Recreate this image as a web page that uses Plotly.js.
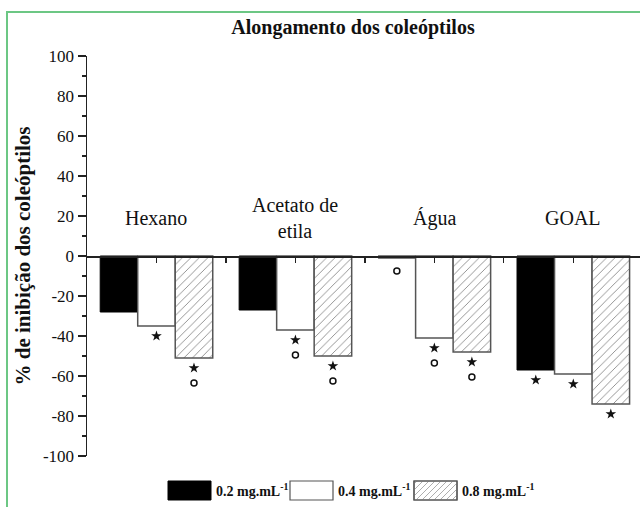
<!DOCTYPE html>
<html>
<head>
<meta charset="utf-8">
<script src="https://cdn.plot.ly/plotly-3.0.1.min.js"></script>
<style>
  html, body { margin: 0; padding: 0; background: #fff; }
  #wrap { position: relative; width: 640px; height: 507px; }
  #chart { width: 640px; height: 507px; }
  #frame { position: absolute; left: 6px; top: 11px; right: 0; bottom: 0;
           border-top: 2px solid #6cc784; border-left: 2px solid #6cc784; pointer-events: none; }
</style>
</head>
<body>
<div id="wrap"><div id="chart"></div><div id="frame"></div></div>
<script>
// ---- data ----
const categories = ['Hexano', 'Acetato de<br>etila', 'Água', 'GOAL'];
const seriesNames = ['0.2 mg.mL<sup>-1</sup>', '0.4 mg.mL<sup>-1</sup>', '0.8 mg.mL<sup>-1</sup>'];
const values02 = [-28, -27, -1, -57];
const values04 = [-35, -37, -41, -59];
const values08 = [-51, -50, -48, -74];
// significance marks (1 = shown)
const star02 = [0, 0, 0, 1];
const star04 = [1, 1, 1, 1];
const star08 = [1, 1, 1, 1];
const circ02 = [0, 0, 1, 0];
const circ04 = [0, 1, 1, 0];
const circ08 = [1, 1, 1, 0];
const yTickVals = [-100, -80, -60, -40, -20, 0, 20, 40, 60, 80, 100];
const yTickText = ['-100', '-80', '-60', '-40', '-20', '0', '20', '40', '60', '80', '100'];

// ---- styles ----
const serif = '"Liberation Serif", "Times New Roman", serif';
const ink = '#111';
const bargap = 0.19;
const bw = (1 - bargap) / 3;
const xIdx = categories.map((_, i) => i);

const values = [values02, values04, values08];
const stars = [star02, star04, star08];
const circs = [circ02, circ04, circ08];

const barStyles = [
  { color: '#000', line: { color: '#000', width: 1 } },
  { color: '#fff', line: { color: '#555', width: 1.5 } },
  { color: '#fff', line: { color: '#555', width: 1.5 },
    pattern: { shape: '/', fgcolor: '#8a8a8a', bgcolor: '#fff', size: 6, solidity: 0.15 } }
];

const traces = [];
values.forEach((v, s) => {
  traces.push({
    type: 'bar', x: xIdx, y: v, name: seriesNames[s],
    marker: barStyles[s], showlegend: false, hoverinfo: 'y'
  });
});

// significance markers below each bar
const starOff = 5, circOffWithStar = 12.5, circOffAlone = 6.5;
values.forEach((v, s) => {
  const sx = [], sy = [], cx = [], cy = [];
  v.forEach((val, i) => {
    const x = i + (s - 1) * bw;
    if (stars[s][i]) { sx.push(x); sy.push(val - starOff); }
    if (circs[s][i]) { cx.push(x); cy.push(val - (stars[s][i] ? circOffWithStar : circOffAlone)); }
  });
  traces.push({ type: 'scatter', mode: 'markers', x: sx, y: sy, showlegend: false, hoverinfo: 'skip',
    marker: { symbol: 'star', size: 8, color: ink } });
  traces.push({ type: 'scatter', mode: 'markers', x: cx, y: cy, showlegend: false, hoverinfo: 'skip',
    marker: { symbol: 'circle-open', size: 6, color: ink, line: { width: 1.5, color: ink } } });
});

// ---- custom legend (shapes + annotations in paper coords) ----
const L = 87, R = 640, T = 56, B = 456;
const px = x => (x - L) / (R - L);
const py = y => (B - y) / (B - T);
const boxes = [[168, 211], [290, 333], [414, 457]];
const by0 = 481, by1 = 500;
const shapes = [];
const annotations = [];
boxes.forEach(([x0, x1], s) => {
  const base = { type: 'rect', xref: 'paper', yref: 'paper', x0: px(x0), x1: px(x1), y0: py(by1), y1: py(by0) };
  if (s === 0) shapes.push(Object.assign({}, base, { fillcolor: '#000', line: { color: '#000', width: 1 } }));
  else shapes.push(Object.assign({}, base, { fillcolor: '#fff', line: { color: '#555', width: 1.2 } }));
  if (s === 2) {
    let d = '';
    for (let c = x0 + by0 + 3; c < x1 + by1; c += 6) {
      const xa = Math.max(x0, c - by1), xb = Math.min(x1, c - by0);
      if (xb <= xa) continue;
      d += `M${px(xa)},${py(c - xa)}L${px(xb)},${py(c - xb)}`;
    }
    shapes.push({ type: 'path', xref: 'paper', yref: 'paper', path: d, line: { color: '#999', width: 0.8 } });
    shapes.push(Object.assign({}, base, { fillcolor: 'rgba(0,0,0,0)', line: { color: '#555', width: 1.2 } }));
  }
  annotations.push({
    xref: 'paper', yref: 'paper', x: px(x1 + 3), y: py((by0 + by1) / 2 - 1), xanchor: 'left', yanchor: 'middle',
    text: seriesNames[s], showarrow: false,
    font: { family: serif, size: 14, color: ink, weight: 'bold' }
  });
});

// category labels above zero line
categories.forEach((c, i) => {
  annotations.push({
    x: i, y: 19, xref: 'x', yref: 'y', text: c, showarrow: false, yanchor: 'middle',
    font: { family: serif, size: 20, color: ink }
  });
});

const layout = {
  width: 640, height: 507,
  margin: { l: L, r: 640 - R, t: T, b: 507 - B },
  paper_bgcolor: 'rgba(0,0,0,0)', plot_bgcolor: 'rgba(0,0,0,0)',
  barmode: 'group', bargap: bargap, bargroupgap: 0,
  showlegend: false,
  title: { text: 'Alongamento dos coleóptilos', x: 353 / 640, xanchor: 'center', y: 1 - 27 / 507, yanchor: 'middle',
    font: { family: serif, size: 20, color: ink, weight: 'bold' } },
  xaxis: {
    range: [-0.5, 3.48], anchor: 'free', position: 0.5,
    showline: true, linecolor: '#222', linewidth: 1.5,
    ticks: 'outside', ticklen: 5, tickwidth: 1.3, tickcolor: '#222',
    tickvals: [0, 0.5, 1, 1.5, 2, 2.5, 3], showticklabels: false,
    showgrid: false, zeroline: false, fixedrange: true
  },
  yaxis: {
    range: [-100, 100], showline: true, linecolor: '#222', linewidth: 1.5,
    ticks: 'outside', ticklen: 8, tickwidth: 1.5, tickcolor: '#222',
    tickvals: yTickVals, ticktext: yTickText,
    minor: { ticks: 'outside', ticklen: 4, tickwidth: 1.2, tickcolor: '#222', dtick: 10, tick0: 0 },
    showgrid: false, zeroline: false, fixedrange: true,
    tickfont: { family: serif, size: 17, color: ink },
    title: { text: '% de inibição dos coleóptilos', standoff: 6,
      font: { family: serif, size: 21, color: ink, weight: 'bold' } }
  },
  shapes: shapes,
  annotations: annotations
};

Plotly.newPlot('chart', traces, layout, { displayModeBar: false, staticPlot: true });
</script>
</body>
</html>
